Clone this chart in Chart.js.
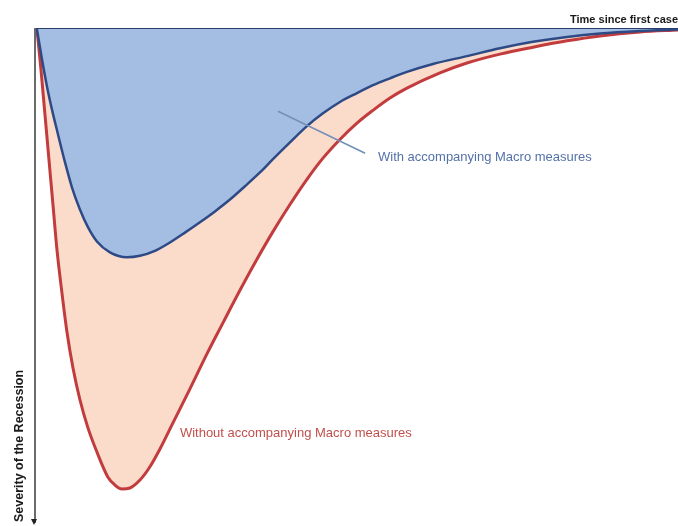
<!DOCTYPE html>
<html>
<head>
<meta charset="utf-8">
<script src="https://cdn.jsdelivr.net/npm/chart.js@4.4.1/dist/chart.umd.min.js"></script>
<style>
  html, body { margin: 0; padding: 0; background: #ffffff; }
  #wrap { width: 678px; height: 526px; position: relative; }
</style>
</head>
<body>
<div id="wrap"><canvas id="c"></canvas></div>
<script>
// Time since first case (relative units 0-100)
const withMacroTime = [0, 0.78, 1.56, 2.34, 3.12, 4.37, 5.46, 6.71, 7.96, 9.36, 11.39, 14.04, 16.07, 18.41, 20.75, 23.09, 25.43, 27.77, 30.11, 32.45, 34.79, 36.82, 39.47, 42.12, 44.62, 47.27, 49.92, 52.42, 55.07, 57.72, 61.78, 67.08, 72.23, 77.38, 82.68, 87.83, 94.07, 100];
// Severity of the recession (relative units, 0 = no recession)
const withMacroSeverity = [0, 6.1, 11.6, 16.3, 20.5, 27.0, 32.1, 36.6, 40.2, 43.1, 45.3, 46.3, 46.0, 45.0, 43.3, 41.3, 39.2, 37.0, 34.6, 31.9, 29.1, 26.4, 23.0, 19.7, 17.1, 14.8, 13.0, 11.4, 10.0, 8.7, 7.1, 5.5, 3.9, 2.6, 1.6, 0.9, 0.4, 0.1];

const withoutMacroTime = [0, 0.62, 1.25, 1.87, 2.50, 3.12, 3.90, 4.68, 5.62, 6.71, 7.96, 9.36, 11.08, 12.17, 13.26, 14.51, 16.07, 17.63, 19.19, 21.22, 23.87, 26.52, 29.02, 31.67, 34.32, 36.82, 39.47, 42.12, 44.62, 47.27, 49.92, 52.42, 55.07, 57.72, 62.87, 67.08, 72.23, 77.38, 82.68, 87.83, 94.07, 100];
const withoutMacroSeverity = [0, 8.1, 17.3, 26.4, 35.6, 44.7, 53.5, 61.4, 68.7, 75.2, 80.9, 85.8, 90.9, 92.5, 93.3, 93.1, 91.5, 88.8, 85.2, 79.9, 73.0, 65.9, 59.6, 53.0, 46.7, 41.1, 35.6, 30.5, 26.2, 22.4, 19.1, 16.5, 14.0, 12.0, 8.9, 6.9, 5.1, 3.7, 2.4, 1.4, 0.6, 0.2];

const seriesLabels = ['With accompanying Macro measures', 'Without accompanying Macro measures'];
const xAxisTitle = 'Time since first case';
const yAxisTitle = 'Severity of the Recession';

// severity is plotted downward from the time axis
const toPoints = (xs, ys) => xs.map((x, i) => ({ x: x, y: -ys[i] }));

const annotationPlugin = {
  id: 'annotations',
  afterDatasetsDraw(chart) {
    const { ctx, scales: { x, y } } = chart;
    ctx.save();
    // leader line for the "with" label
    ctx.strokeStyle = '#7390b8';
    ctx.lineWidth = 1.6;
    ctx.beginPath();
    ctx.moveTo(x.getPixelForValue(37.6), y.getPixelForValue(-16.7));
    ctx.lineTo(x.getPixelForValue(51.2), y.getPixelForValue(-25.2));
    ctx.stroke();
    // series labels
    ctx.font = '13px "Liberation Sans", Arial, sans-serif';
    ctx.textBaseline = 'middle';
    ctx.textAlign = 'left';
    ctx.fillStyle = '#5472a8';
    ctx.fillText(seriesLabels[0], x.getPixelForValue(53.2), y.getPixelForValue(-26.0));
    ctx.fillStyle = '#c0504d';
    ctx.fillText(seriesLabels[1], x.getPixelForValue(22.3), y.getPixelForValue(-82.0));
    // arrow head at the bottom of the y axis
    const ax = y.right - 1;
    const ay = y.bottom;
    ctx.fillStyle = '#222222';
    ctx.beginPath();
    ctx.moveTo(ax - 3, ay - 3);
    ctx.lineTo(ax + 3, ay - 3);
    ctx.lineTo(ax, ay + 3);
    ctx.closePath();
    ctx.fill();
    ctx.restore();
  }
};

new Chart(document.getElementById('c'), {
  type: 'line',
  data: {
    datasets: [
      {
        label: seriesLabels[0],
        data: toPoints(withMacroTime, withMacroSeverity),
        borderColor: '#2d4a86',
        borderWidth: 2.5,
        backgroundColor: '#a3bee2',
        fill: 'origin',
        pointRadius: 0,
        cubicInterpolationMode: 'monotone'
      },
      {
        label: seriesLabels[1],
        data: toPoints(withoutMacroTime, withoutMacroSeverity),
        borderColor: '#c23b3d',
        borderWidth: 3,
        backgroundColor: '#fbdccb',
        fill: 'origin',
        pointRadius: 0,
        cubicInterpolationMode: 'monotone'
      }
    ]
  },
  options: {
    responsive: true,
    maintainAspectRatio: false,
    animation: false,
    layout: { padding: { top: 0, right: 0, bottom: 4, left: 0 } },
    plugins: {
      legend: { display: false },
      tooltip: { enabled: false },
      title: { display: false }
    },
    scales: {
      x: {
        type: 'linear',
        position: 'top',
        min: -0.3,
        max: 100,
        grid: { display: false },
        ticks: { display: false },
        border: { display: true, color: '#2b3d6b', width: 3 },
        title: {
          display: true,
          text: xAxisTitle,
          align: 'end',
          color: '#1a1a1a',
          font: { family: '"Liberation Sans", Arial, sans-serif', size: 11, weight: 'bold' },
          padding: { top: 13, bottom: 0 }
        },
        afterFit(scale) { scale.height = 29; }
      },
      y: {
        type: 'linear',
        min: -100,
        max: 0,
        grid: { display: false },
        ticks: { display: false },
        border: { display: true, color: '#6b6b6b', width: 2 },
        title: {
          display: true,
          text: yAxisTitle,
          align: 'start',
          color: '#1a1a1a',
          font: { family: '"Liberation Sans", Arial, sans-serif', size: 12.5, weight: 'bold' },
          padding: { top: 12, bottom: 0 }
        },
        afterFit(scale) { scale.width = 35; }
      }
    }
  },
  plugins: [annotationPlugin]
});
</script>
</body>
</html>
